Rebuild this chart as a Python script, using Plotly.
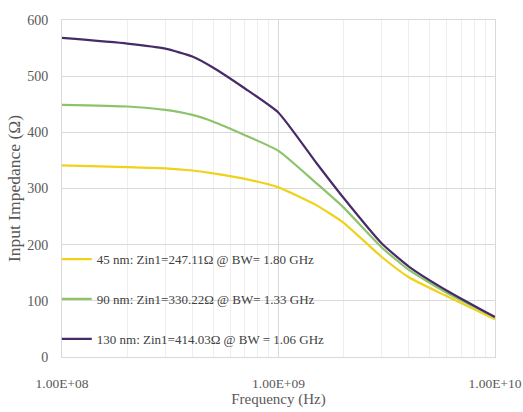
import plotly.graph_objects as go

freq = [1e8, 2e8, 3e8, 4e8, 5e8, 7e8, 1e9, 1.5e9, 2e9, 3e9, 4e9, 6e9, 1e10]
z_45 = [341, 338, 336, 332, 327, 317, 302, 270, 239, 178, 142, 108, 67]
z_90 = [449, 446, 440, 431, 419, 395, 367, 309, 266, 195, 155, 114, 71]
z_130 = [568, 558, 549, 535, 515, 478, 435, 345, 283, 202, 161, 118, 71]

names = [
    "45 nm: Zin1=247.11\u03a9 @ BW= 1.80 GHz",
    "90 nm: Zin1=330.22\u03a9 @ BW= 1.33 GHz",
    "130 nm: Zin1=414.03\u03a9 @ BW = 1.06 GHz",
]
colors = ["#EFD21A", "#8DC46A", "#472B68"]

x_tickvals = [1e8, 1e9, 1e10]
x_ticktext = ["1.00E+08", "1.00E+09", "1.00E+10"]

fig = go.Figure()
for i, (z, n, c) in enumerate(zip([z_45, z_90, z_130], names, colors)):
    fig.add_trace(go.Scatter(
        x=freq, y=z, mode="lines", name=n, legendgroup=f"g{i}",
        line=dict(color=c, width=2.2, shape="spline", smoothing=0.5),
    ))

ff = "Liberation Serif"
fig.update_layout(
    width=523, height=412,
    margin=dict(l=62, r=28, t=20, b=55),
    paper_bgcolor="white", plot_bgcolor="white",
    font=dict(family=ff, size=14, color="#595959"),
    showlegend=True,
    legend=dict(
        x=-0.012, y=0.335, xanchor="left", yanchor="top",
        bgcolor="rgba(0,0,0,0)", borderwidth=0,
        font=dict(family=ff, size=13, color="#404040"),
        itemwidth=30, tracegroupgap=20,
        traceorder="grouped",
    ),
)
fig.update_xaxes(
    type="log", range=[8, 10], automargin=False,
    tickvals=x_tickvals, ticktext=x_ticktext,
    tickfont=dict(family=ff, size=13.5, color="#595959"),
    showgrid=True, gridcolor="#D9D9D9", gridwidth=1,
    minor=dict(showgrid=True, gridcolor="#EEEEEE", gridwidth=1,
               tickvals=[k * 10 ** e for e in (8, 9) for k in range(2, 10)]),
    showline=True, linecolor="#D9D9D9", mirror=True,
    ticks="", ticklabelstandoff=14,
    title=dict(text="Frequency (Hz)", font=dict(family=ff, size=15, color="#595959"), standoff=2),
    zeroline=False,
)
fig.update_yaxes(
    range=[0, 600], dtick=100, automargin=False,
    tickfont=dict(family=ff, size=14, color="#595959"),
    showgrid=True, gridcolor="#D9D9D9", gridwidth=1,
    showline=True, linecolor="#D9D9D9", mirror=True,
    ticks="", ticklabelstandoff=10,
    title=dict(text="Input Impedance (\u03a9)", font=dict(family=ff, size=17.5, color="#595959"), standoff=2),
    zeroline=False,
)

fig.write_html("out.html", config={"displayModeBar": False},
               post_script="document.body.style.margin='0px';")
